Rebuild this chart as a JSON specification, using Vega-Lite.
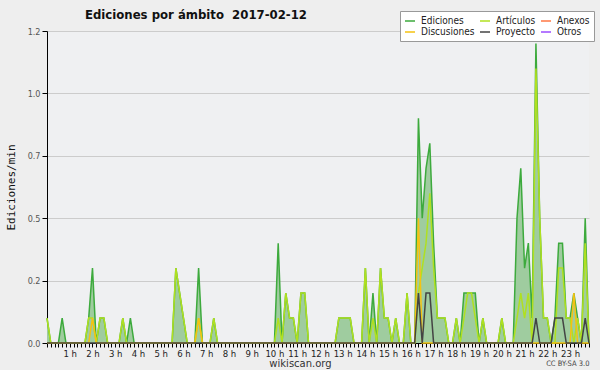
{
  "$schema": "https://vega.github.io/schema/vega-lite/v6.json",
  "width": 542,
  "height": 312,
  "autosize": {"type": "none"},
  "padding": {"left": 47, "top": 31, "right": 11, "bottom": 27},
  "background": "#eeeeee",
  "config": {"view": {"stroke": null, "fill": "#eff0f2"}, "font": "DejaVu Sans"},
  "title": {"text": "Ediciones por ámbito \u00a02017-02-12", "anchor": "start", "frame": "group", "dx": 38, "dy": 21, "offset": 10, "fontSize": 13, "fontWeight": "bold", "font": "DejaVu Sans Condensed, DejaVu Sans", "color": "#111111"},
  "data": {"values": [
    {"m":0,"E":0.1,"A":0.1,"D":0,"P":0},{"m":10,"E":0,"A":0,"D":0,"P":0},{"m":20,"E":0,"A":0,"D":0,"P":0},{"m":30,"E":0,"A":0,"D":0,"P":0},
    {"m":40,"E":0.1,"A":0,"D":0,"P":0},{"m":50,"E":0,"A":0,"D":0,"P":0},{"m":60,"E":0,"A":0,"D":0,"P":0},{"m":70,"E":0,"A":0,"D":0,"P":0},
    {"m":80,"E":0,"A":0,"D":0,"P":0},{"m":90,"E":0,"A":0,"D":0,"P":0},{"m":100,"E":0,"A":0,"D":0,"P":0},{"m":110,"E":0.1,"A":0.1,"D":0,"P":0},
    {"m":120,"E":0.3,"A":0.1,"D":0.1,"P":0},{"m":130,"E":0,"A":0,"D":0,"P":0},{"m":140,"E":0.1,"A":0.1,"D":0,"P":0},{"m":150,"E":0.1,"A":0.1,"D":0,"P":0},
    {"m":160,"E":0,"A":0,"D":0,"P":0},{"m":170,"E":0,"A":0,"D":0,"P":0},{"m":180,"E":0,"A":0,"D":0,"P":0},{"m":190,"E":0,"A":0,"D":0,"P":0},
    {"m":200,"E":0.1,"A":0.1,"D":0,"P":0},{"m":210,"E":0,"A":0,"D":0,"P":0},{"m":220,"E":0.1,"A":0,"D":0,"P":0},{"m":230,"E":0,"A":0,"D":0,"P":0},
    {"m":240,"E":0,"A":0,"D":0,"P":0},{"m":250,"E":0,"A":0,"D":0,"P":0},{"m":260,"E":0,"A":0,"D":0,"P":0},{"m":270,"E":0,"A":0,"D":0,"P":0},
    {"m":280,"E":0,"A":0,"D":0,"P":0},{"m":290,"E":0,"A":0,"D":0,"P":0},{"m":300,"E":0,"A":0,"D":0,"P":0},{"m":310,"E":0,"A":0,"D":0,"P":0},
    {"m":320,"E":0,"A":0,"D":0,"P":0},{"m":330,"E":0,"A":0,"D":0,"P":0},{"m":340,"E":0.3,"A":0.3,"D":0,"P":0},{"m":350,"E":0.2,"A":0.2,"D":0,"P":0},
    {"m":360,"E":0.1,"A":0.1,"D":0,"P":0},{"m":370,"E":0,"A":0,"D":0,"P":0},{"m":380,"E":0,"A":0,"D":0,"P":0},{"m":390,"E":0,"A":0,"D":0,"P":0},
    {"m":400,"E":0.3,"A":0.1,"D":0.1,"P":0},{"m":410,"E":0,"A":0,"D":0,"P":0},{"m":420,"E":0,"A":0,"D":0,"P":0},{"m":430,"E":0,"A":0,"D":0,"P":0},
    {"m":440,"E":0.1,"A":0.1,"D":0,"P":0},{"m":450,"E":0,"A":0,"D":0,"P":0},{"m":460,"E":0,"A":0,"D":0,"P":0},{"m":470,"E":0,"A":0,"D":0,"P":0},
    {"m":480,"E":0,"A":0,"D":0,"P":0},{"m":490,"E":0,"A":0,"D":0,"P":0},{"m":500,"E":0,"A":0,"D":0,"P":0},{"m":510,"E":0,"A":0,"D":0,"P":0},
    {"m":520,"E":0,"A":0,"D":0,"P":0},{"m":530,"E":0,"A":0,"D":0,"P":0},{"m":540,"E":0,"A":0,"D":0,"P":0},{"m":550,"E":0,"A":0,"D":0,"P":0},
    {"m":560,"E":0,"A":0,"D":0,"P":0},{"m":570,"E":0,"A":0,"D":0,"P":0},{"m":580,"E":0,"A":0,"D":0,"P":0},{"m":590,"E":0,"A":0,"D":0,"P":0},
    {"m":600,"E":0,"A":0,"D":0,"P":0},{"m":610,"E":0.4,"A":0.1,"D":0,"P":0},{"m":620,"E":0,"A":0,"D":0,"P":0},{"m":630,"E":0.2,"A":0.2,"D":0,"P":0},
    {"m":640,"E":0.1,"A":0.1,"D":0,"P":0},{"m":650,"E":0.1,"A":0.1,"D":0,"P":0},{"m":660,"E":0,"A":0,"D":0,"P":0},{"m":670,"E":0.2,"A":0.2,"D":0,"P":0},
    {"m":680,"E":0.2,"A":0.2,"D":0,"P":0},{"m":690,"E":0,"A":0,"D":0,"P":0},{"m":700,"E":0,"A":0,"D":0,"P":0},{"m":710,"E":0,"A":0,"D":0,"P":0},
    {"m":720,"E":0,"A":0,"D":0,"P":0},{"m":730,"E":0,"A":0,"D":0,"P":0},{"m":740,"E":0,"A":0,"D":0,"P":0},{"m":750,"E":0,"A":0,"D":0,"P":0},
    {"m":760,"E":0,"A":0,"D":0,"P":0},{"m":770,"E":0.1,"A":0.1,"D":0,"P":0},{"m":780,"E":0.1,"A":0.1,"D":0,"P":0},{"m":790,"E":0.1,"A":0.1,"D":0,"P":0},
    {"m":800,"E":0.1,"A":0.1,"D":0,"P":0},{"m":810,"E":0,"A":0,"D":0,"P":0},{"m":820,"E":0,"A":0,"D":0,"P":0},{"m":830,"E":0,"A":0,"D":0,"P":0},
    {"m":840,"E":0.3,"A":0.3,"D":0,"P":0},{"m":850,"E":0,"A":0,"D":0,"P":0},{"m":860,"E":0.2,"A":0.1,"D":0,"P":0},{"m":870,"E":0,"A":0,"D":0,"P":0},
    {"m":880,"E":0.3,"A":0.3,"D":0,"P":0},{"m":890,"E":0.1,"A":0.1,"D":0,"P":0},{"m":900,"E":0.1,"A":0.1,"D":0,"P":0},{"m":910,"E":0,"A":0,"D":0,"P":0},
    {"m":920,"E":0.1,"A":0.1,"D":0,"P":0},{"m":930,"E":0,"A":0,"D":0,"P":0},{"m":940,"E":0,"A":0,"D":0,"P":0},{"m":950,"E":0.2,"A":0.2,"D":0,"P":0},
    {"m":960,"E":0,"A":0,"D":0,"P":0},{"m":970,"E":0,"A":0,"D":0,"P":0},{"m":980,"E":0.9,"A":0.2,"D":0.5,"P":0.2},{"m":990,"E":0.5,"A":0.3,"D":0,"P":0},
    {"m":1000,"E":0.7,"A":0.4,"D":0,"P":0.2},{"m":1010,"E":0.8,"A":0.6,"D":0,"P":0.2},{"m":1020,"E":0.4,"A":0.3,"D":0,"P":0},{"m":1030,"E":0.1,"A":0.1,"D":0,"P":0},
    {"m":1040,"E":0.1,"A":0.1,"D":0,"P":0},{"m":1050,"E":0.1,"A":0.1,"D":0,"P":0},{"m":1060,"E":0,"A":0,"D":0,"P":0},{"m":1070,"E":0,"A":0,"D":0,"P":0},
    {"m":1080,"E":0.1,"A":0.1,"D":0,"P":0},{"m":1090,"E":0,"A":0,"D":0,"P":0},{"m":1100,"E":0.2,"A":0.1,"D":0,"P":0},{"m":1110,"E":0.2,"A":0.2,"D":0,"P":0},
    {"m":1120,"E":0.2,"A":0.2,"D":0,"P":0},{"m":1130,"E":0.2,"A":0.1,"D":0,"P":0},{"m":1140,"E":0,"A":0,"D":0,"P":0},{"m":1150,"E":0.1,"A":0.1,"D":0,"P":0},
    {"m":1160,"E":0,"A":0,"D":0,"P":0},{"m":1170,"E":0,"A":0,"D":0,"P":0},{"m":1180,"E":0,"A":0,"D":0,"P":0},{"m":1190,"E":0,"A":0,"D":0,"P":0},
    {"m":1200,"E":0.1,"A":0.1,"D":0,"P":0},{"m":1210,"E":0,"A":0,"D":0,"P":0},{"m":1220,"E":0,"A":0,"D":0,"P":0},{"m":1230,"E":0,"A":0,"D":0,"P":0},
    {"m":1240,"E":0.5,"A":0.1,"D":0,"P":0},{"m":1250,"E":0.7,"A":0.2,"D":0,"P":0},{"m":1260,"E":0.3,"A":0.1,"D":0,"P":0},{"m":1270,"E":0.4,"A":0.2,"D":0,"P":0},
    {"m":1280,"E":0.1,"A":0,"D":0,"P":0},{"m":1290,"E":1.2,"A":1.1,"D":0,"P":0.1},{"m":1300,"E":0.5,"A":0.5,"D":0,"P":0},{"m":1310,"E":0.1,"A":0.1,"D":0,"P":0},
    {"m":1320,"E":0.1,"A":0.1,"D":0,"P":0},{"m":1330,"E":0,"A":0,"D":0,"P":0},{"m":1340,"E":0.1,"A":0,"D":0,"P":0.1},{"m":1350,"E":0.4,"A":0.3,"D":0,"P":0.1},
    {"m":1360,"E":0.4,"A":0.3,"D":0,"P":0.1},{"m":1370,"E":0.1,"A":0.1,"D":0,"P":0},{"m":1380,"E":0.1,"A":0.1,"D":0,"P":0},{"m":1390,"E":0.2,"A":0,"D":0.2,"P":0},
    {"m":1400,"E":0.1,"A":0.1,"D":0,"P":0},{"m":1410,"E":0,"A":0,"D":0,"P":0},{"m":1420,"E":0.5,"A":0.4,"D":0,"P":0.1},{"m":1430,"E":0,"A":0,"D":0,"P":0}
  ]},
  "layer": [
    {
      "mark": {"type": "area", "color": "#9fcc9f", "opacity": 1},
      "encoding": {
        "x": {"field": "m", "type": "quantitative", "scale": {"domain": [0, 1430], "nice": false, "zero": false},
          "axis": {"orient": "bottom", "domain": false, "ticks": false, "labels": false, "grid": false,
            "title": "CC BY-SA 3.0", "titleX": 542, "titleY": 22, "titleAlign": "right", "titleAnchor": null, "titleBaseline": "alphabetic",
            "titleFontSize": 7.5, "titleFontWeight": "normal", "titleColor": "#444444", "titleFont": "DejaVu Sans Condensed, DejaVu Sans"}},
        "y": {"field": "E", "type": "quantitative", "scale": {"domain": [0, 1.25], "nice": false},
          "axis": {"values": [0,0.0625,0.125,0.1875,0.25,0.3125,0.375,0.4375,0.5,0.5625,0.625,0.6875,0.75,0.8125,0.875,0.9375,1,1.0625,1.125,1.1875,1.25],
            "labelExpr": "datum.value % 0.25 == 0 ? format(floor(datum.value * 10 + 0.001) / 10, '.1f') : ''",
            "labelOverlap": false, "labelFlush": false, "labelFontSize": 9, "labelFont": "DejaVu Sans Condensed, DejaVu Sans", "labelColor": "#555555", "labelPadding": 2,
            "tickSize": {"condition": {"test": "datum.value % 0.25 == 0", "value": 5}, "value": 3},
            "tickColor": "#000000", "domainColor": "#000000",
            "grid": true, "gridColor": "#cccccc", "gridOpacity": {"condition": {"test": "datum.value % 0.25 == 0", "value": 1}, "value": 0},
            "title": "Ediciones/min", "titleFont": "DejaVu Sans Mono", "titleFontSize": 11, "titleFontWeight": "normal", "titleColor": "#111111", "titlePadding": 11}}
      }
    },
    {
      "transform": [{"fold": ["E", "A", "D", "P"], "as": ["k", "v"]}],
      "mark": {"type": "line", "strokeWidth": 1.5},
      "encoding": {
        "x": {"field": "m", "type": "quantitative",
          "axis": {"orient": "bottom", "values": [0,10,20,30,40,50,60,70,80,90,100,110,120,130,140,150,160,170,180,190,200,210,220,230,240,250,260,270,280,290,300,310,320,330,340,350,360,370,380,390,400,410,420,430,440,450,460,470,480,490,500,510,520,530,540,550,560,570,580,590,600,610,620,630,640,650,660,670,680,690,700,710,720,730,740,750,760,770,780,790,800,810,820,830,840,850,860,870,880,890,900,910,920,930,940,950,960,970,980,990,1000,1010,1020,1030,1040,1050,1060,1070,1080,1090,1100,1110,1120,1130,1140,1150,1160,1170,1180,1190,1200,1210,1220,1230,1240,1250,1260,1270,1280,1290,1300,1310,1320,1330,1340,1350,1360,1370,1380,1390,1400,1410,1420,1430],
            "labelExpr": "datum.value % 60 == 0 && datum.value > 0 ? (datum.value / 60) + ' h' : ''",
            "labelOverlap": false, "labelFlush": false, "labelFontSize": 9.5, "labelFont": "DejaVu Sans Condensed, DejaVu Sans", "labelColor": "#222222", "labelPadding": 1,
            "tickSize": 4, "tickColor": "#000000", "domainColor": "#000000", "grid": false,
            "title": "wikiscan.org", "titleX": 253, "titleY": 23, "titleAlign": "center", "titleAnchor": null, "titleBaseline": "alphabetic",
            "titleFontSize": 10, "titleFontWeight": "normal", "titleColor": "#333333"}},
        "y": {"field": "v", "type": "quantitative"},
        "color": {"field": "k", "type": "nominal",
          "scale": {"domain": ["E", "A", "X", "D", "P", "O"], "range": ["#3daa3d", "#b0e020", "#ff7744", "#f5c211", "#444444", "#9b4dff"]},
          "legend": {"orient": "none", "legendX": 353, "legendY": -20, "columns": 3, "direction": "horizontal", "title": null,
            "labelExpr": "{'E': 'Ediciones', 'A': 'Artículos', 'X': 'Anexos', 'D': 'Discusiones', 'P': 'Proyecto', 'O': 'Otros'}[datum.label]",
            "symbolType": "stroke", "symbolSize": 100, "symbolStrokeWidth": 1.5, "labelFontSize": 10, "labelFont": "DejaVu Sans Condensed, DejaVu Sans", "labelColor": "#222222",
            "fillColor": "#ffffff", "strokeColor": "#999999", "padding": 4, "rowPadding": 0, "columnPadding": 2, "labelOffset": 5}}
      }
    }
  ],
  "resolve": {"axis": {"x": "independent"}}
}
